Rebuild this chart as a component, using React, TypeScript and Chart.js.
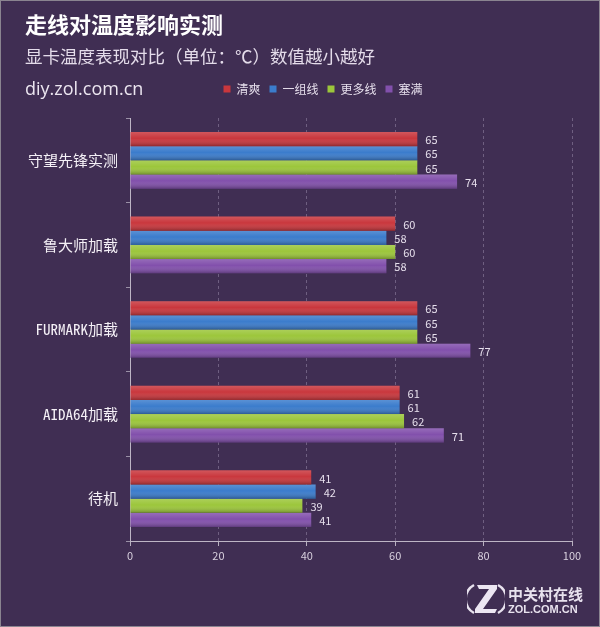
import React, { useEffect, useRef } from "react";
import { Chart, registerables } from "chart.js";

Chart.register(...registerables);

const categories = ["守望先锋实测", "鲁大师加载", "FURMARK加载", "AIDA64加载", "待机"];
const seriesNames = ["清爽", "一组线", "更多线", "塞满"];
const qingshuang = [65, 60, 65, 61, 41];
const yizuxian = [65, 58, 65, 61, 42];
const gengduoxian = [65, 60, 65, 62, 39];
const saiman = [74, 58, 77, 71, 41];
const xMin = 0;
const xMax = 100;
const xStep = 20;
const seriesColors = ["#c9373d", "#3b7ccc", "#9cc63b", "#8250ac"];

const BG = "#402e53";
const FONT = "'Noto Sans CJK SC', 'Noto Sans', sans-serif";
const MONO = "'Noto Sans Mono CJK SC', 'Noto Sans CJK SC', sans-serif";

const barShade = {
  id: "barShade",
  afterDatasetsDraw(chart: any) {
    const ctx = chart.ctx;
    chart.data.datasets.forEach((_ds: any, i: number) => {
      const meta = chart.getDatasetMeta(i);
      meta.data.forEach((bar: any) => {
        const top = bar.y - bar.height / 2;
        const left = Math.min(bar.base, bar.x);
        const w = Math.abs(bar.x - bar.base);
        const g = ctx.createLinearGradient(0, top, 0, top + bar.height);
        g.addColorStop(0, "rgba(255,255,255,0.16)");
        g.addColorStop(0.45, "rgba(255,255,255,0)");
        g.addColorStop(1, "rgba(0,0,0,0.28)");
        ctx.save();
        ctx.fillStyle = g;
        ctx.fillRect(left, top, w, bar.height);
        ctx.restore();
      });
    });
  },
};

const valueLabels = {
  id: "valueLabels",
  afterDatasetsDraw(chart: any) {
    const ctx = chart.ctx;
    ctx.save();
    ctx.font = `11px ${FONT}`;
    ctx.fillStyle = "#e6dfec";
    ctx.textAlign = "left";
    ctx.textBaseline = "middle";
    chart.data.datasets.forEach((ds: any, i: number) => {
      const meta = chart.getDatasetMeta(i);
      meta.data.forEach((bar: any, j: number) => {
        ctx.fillText(String(ds.data[j]), bar.x + 8, bar.y + 1);
      });
    });
    ctx.restore();
  },
};

const LEGEND_SHIFT = 37;

const legendSpacing = {
  id: "legendSpacing",
  beforeLayout(chart: any) {
    const lg = chart.legend;
    if (lg && !lg._patched) {
      const fit = lg.fit;
      lg.fit = function () {
        fit.call(this);
        this.height += 13;
      };
      lg._patched = true;
    }
  },
  afterLayout(chart: any) {
    const lg = chart.legend;
    if (lg) {
      lg.left += LEGEND_SHIFT;
      lg.right += LEGEND_SHIFT;
    }
  },
};

export default function App() {
  const ref = useRef<HTMLCanvasElement | null>(null);

  useEffect(() => {
    document.body.style.margin = "0";
    if (!ref.current) return;
    const values = [qingshuang, yizuxian, gengduoxian, saiman];
    const chart = new Chart(ref.current, {
      type: "bar",
      data: {
        labels: categories,
        datasets: seriesNames.map((name, i) => ({
          label: name,
          data: values[i],
          backgroundColor: seriesColors[i],
          borderWidth: 0,
          categoryPercentage: 0.67,
          barPercentage: 1.0,
        })),
      },
      options: {
        indexAxis: "y",
        responsive: false,
        animation: false,
        devicePixelRatio: 1,
        layout: { padding: { top: 74, left: 0, right: 28, bottom: 60 } },
        plugins: {
          legend: {
            display: true,
            position: "top",
            labels: {
              boxWidth: 7,
              boxHeight: 7,
              padding: 9,
              color: "#e6dfec",
              font: { size: 12, family: FONT },
            },
          },
          tooltip: { enabled: false },
        },
        scales: {
          x: {
            type: "linear",
            min: xMin,
            max: xMax,
            ticks: {
              stepSize: xStep,
              color: "#d8d0de",
              font: { size: 11, family: FONT },
              padding: 3,
            },
            grid: {
              color: "rgba(200,185,215,0.35)",
              borderDash: [3, 3],
              tickColor: "#b8b0c0",
              tickBorderDash: [],
              tickLength: 5,
              drawOnChartArea: true,
            },
            border: { display: true, color: "#bdb5c5", width: 1, dash: [3, 3] },
            afterFit(scale: any) {
              scale.height = 26;
            },
          } as any,
          y: {
            type: "category",
            ticks: {
              color: "#f4f0f6",
              font: { size: 15, family: MONO },
              padding: 8,
            },
            grid: {
              offset: true,
              drawOnChartArea: false,
              tickColor: "#9a90a6",
              tickLength: 4,
            },
            border: { display: true, color: "#bdb5c5", width: 1 },
            afterFit(scale: any) {
              scale.width = 130;
            },
          } as any,
        },
      },
      plugins: [legendSpacing, barShade, valueLabels],
    } as any);
    return () => chart.destroy();
  }, []);

  return (
    <div
      style={{
        position: "relative",
        width: 600,
        height: 627,
        background: BG,
        overflow: "hidden",
        fontFamily: FONT,
        boxShadow: "inset 0 0 0 1px #8a8490",
      }}
    >
      <canvas ref={ref} width={600} height={627} style={{ position: "absolute", left: 0, top: 0 }} />
      <div style={{ position: "absolute", left: 25, top: 8, fontSize: 22, fontWeight: 700, color: "#ffffff", whiteSpace: "nowrap", lineHeight: "30px" }}>
        走线对温度影响实测
      </div>
      <div style={{ position: "absolute", left: 25, top: 43, fontSize: 17.5, color: "#e4dcea", whiteSpace: "nowrap", lineHeight: "26px" }}>
        显卡温度表现对比（单位：℃）数值越小越好
      </div>
      <div style={{ position: "absolute", left: 25, top: 75, fontSize: 18, color: "#ece6f0", whiteSpace: "nowrap", lineHeight: "26px", fontFamily: "'Open Sans', sans-serif" }}>
        diy.zol.com.cn
      </div>
      <svg style={{ position: "absolute", left: 467, top: 582 }} width={38} height={34} viewBox="0 0 38 34">
        <path d="M7 3 A16 16 0 0 0 7 31" stroke="#e8e2ee" strokeWidth={2.5} fill="none" />
        <path d="M31 3 A16 16 0 0 1 31 31" stroke="#e8e2ee" strokeWidth={2.5} fill="none" />
        <path d="M10 3 L30 3 L30 7 L16 27 L30 27 L28 31 L8 31 L8 27 L22 7 L12 7 Z" fill="#ecE6f2" />
      </svg>
      <div style={{ position: "absolute", left: 508, top: 585, color: "#e8e2ee", fontSize: 15, fontWeight: 700, lineHeight: "18px", whiteSpace: "nowrap" }}>
        中关村在线
      </div>
      <div style={{ position: "absolute", left: 508, top: 602, color: "#e8e2ee", fontSize: 11, fontWeight: 700, lineHeight: "14px", whiteSpace: "nowrap", fontFamily: "'Liberation Sans', sans-serif" }}>
        ZOL.COM.CN
      </div>
    </div>
  );
}
